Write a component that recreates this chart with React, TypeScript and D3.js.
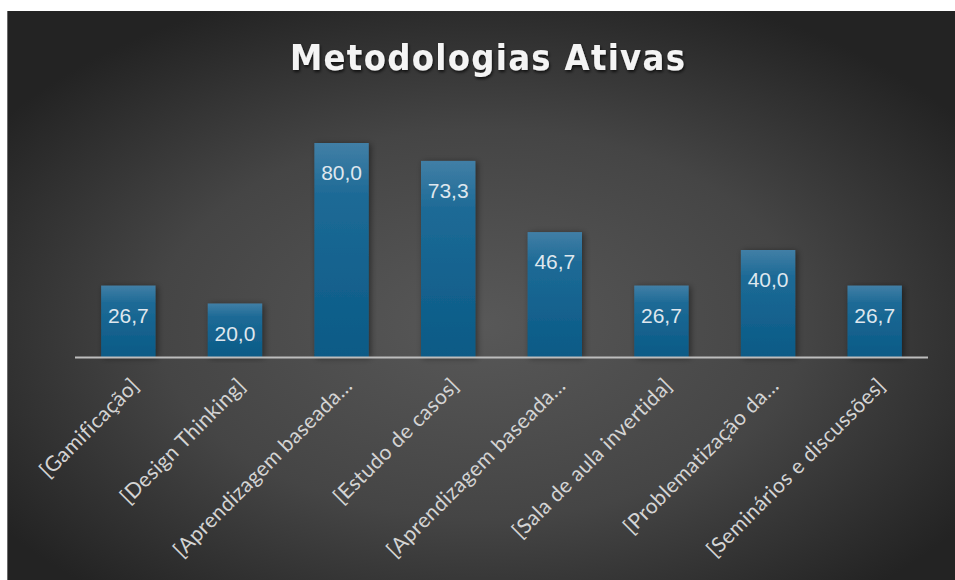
import React from 'react';
import * as d3 from 'd3';

const categories = [
  '[Gamificação]',
  '[Design Thinking]',
  '[Aprendizagem baseada…',
  '[Estudo de casos]',
  '[Aprendizagem baseada…',
  '[Sala de aula invertida]',
  '[Problematização da…',
  '[Seminários e discussões]',
];
const values = [26.7, 20.0, 80.0, 73.3, 46.7, 26.7, 40.0, 26.7];
const title = 'Metodologias Ativas';

const W = 955;
const H = 580;

const App: React.FC = () => {
  const x = d3.scaleBand<number>()
    .domain(d3.range(categories.length))
    .range([75, 928])
    .paddingInner(0.49)
    .paddingOuter(0.245);
  const y = d3.scaleLinear().domain([0, 90]).range([357, 116.25]);
  const fmt = (v: number) => d3.format('.1f')(v).replace('.', ',');

  return (
    <div style={{ position: 'absolute', left: 0, top: 0, width: W, height: H, background: '#fff' }}>
      <svg width={W} height={H}>
        <defs>
          <radialGradient id="bg" cx="0.5" cy="0.55" r="0.62" fx="0.5" fy="0.55">
            <stop offset="0" stopColor="#585858" />
            <stop offset="0.55" stopColor="#454545" />
            <stop offset="1" stopColor="#232323" />
          </radialGradient>
          <linearGradient id="bar" x1="0" y1="0" x2="0" y2="1">
            <stop offset="0" stopColor="#417fa6" />
            <stop offset="0.25" stopColor="#1d6a96" />
            <stop offset="1" stopColor="#0a5a86" />
          </linearGradient>
          <filter id="shadow" x="-30%" y="-10%" width="160%" height="120%">
            <feDropShadow dx="2" dy="1" stdDeviation="3" floodColor="#000" floodOpacity="0.45" />
          </filter>
          <filter id="tshadow" x="-10%" y="-30%" width="120%" height="160%">
            <feDropShadow dx="1" dy="2" stdDeviation="1.5" floodColor="#000" floodOpacity="0.7" />
          </filter>
        </defs>
        <rect x={7} y={11} width={W - 7} height={H - 11} fill="url(#bg)" />
        <line x1={7.5} x2={7.5} y1={11} y2={H} stroke="#6a6a6a" strokeWidth={1} />

        <text
          x={487.5}
          y={70}
          textAnchor="middle"
          fill="#f4f4f4"
          fontFamily="'DejaVu Sans Condensed', 'DejaVu Sans', sans-serif"
          fontWeight="bold"
          fontSize={36}
          textLength={395}
          lengthAdjust="spacing"
          filter="url(#tshadow)"
        >
          {title}
        </text>

        {values.map((v, i) => (
          <rect
            key={`b${i}`}
            x={x(i)}
            y={y(v)}
            width={x.bandwidth()}
            height={y(0) - y(v)}
            fill="url(#bar)"
            filter="url(#shadow)"
          />
        ))}

        <line x1={75} x2={928} y1={357.5} y2={357.5} stroke="#bdbdbd" strokeWidth={2} />

        {values.map((v, i) => (
          <text
            key={`v${i}`}
            x={(x(i) ?? 0) + x.bandwidth() / 2}
            y={y(v) + 37}
            textAnchor="middle"
            fill="#dfe7ee"
            fontFamily="'Liberation Sans', Arial, sans-serif"
            fontSize={21}
          >
            {fmt(v)}
          </text>
        ))}

        {categories.map((c, i) => {
          const cx = (x(i) ?? 0) + x.bandwidth() / 2 + 12;
          const cy = 387;
          return (
            <text
              key={`c${i}`}
              transform={`translate(${cx},${cy}) rotate(-45)`}
              textAnchor="end"
              fill="#d4d4d4"
              fontFamily="Lato, 'Open Sans', sans-serif"
              fontSize={21}
              letterSpacing={0.4}
            >
              {c}
            </text>
          );
        })}
      </svg>
    </div>
  );
};

export default App;
